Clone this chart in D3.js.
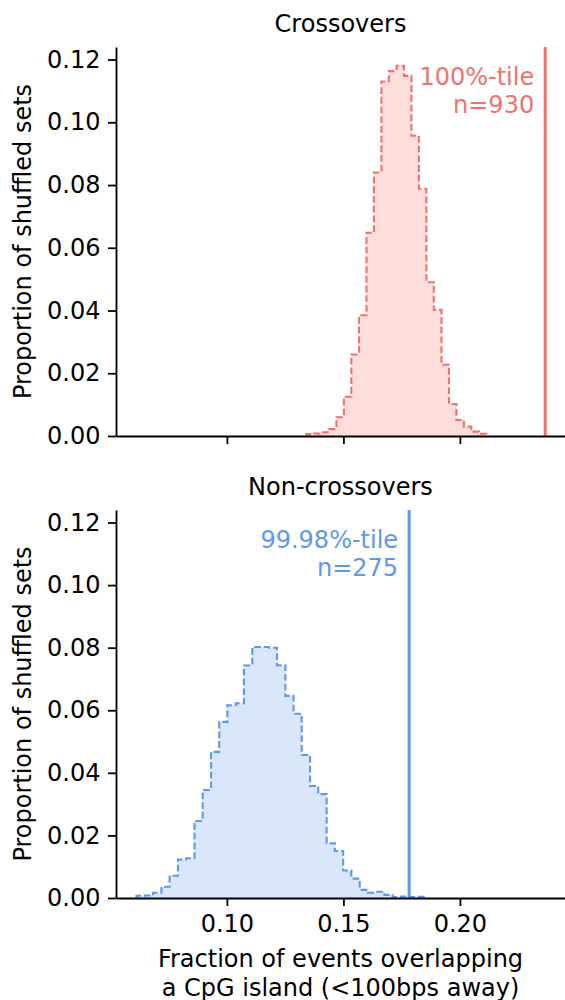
<!DOCTYPE html>
<html lang="en">
<head>
<meta charset="UTF-8">
<title>Shuffled sets overlapping CpG islands</title>
<script src="https://d3js.org/d3.v7.min.js"></script>
<style>
    body { margin: 0; background: #fff; }
    svg text { font-family: "DejaVu Sans", sans-serif; }
</style>
</head>
<body>
<svg width="565" height="1000"></svg>

<script>
    // crossovers: histogram of shuffled sets (bin edges + proportions)
    const coEdges = [0.1341, 0.1373, 0.1406, 0.1438, 0.1470, 0.1502, 0.1534, 0.1567,
        0.1599, 0.1631, 0.1663, 0.1695, 0.1728, 0.1760, 0.1792, 0.1824, 0.1856,
        0.1888, 0.1921, 0.1953, 0.1985, 0.2017, 0.2049, 0.2082, 0.2114];
    const coProps = [0.0006, 0.0008, 0.0012, 0.0022, 0.0060, 0.0125, 0.0260, 0.0385,
        0.0648, 0.0840, 0.1130, 0.1163, 0.1180, 0.1148, 0.0957, 0.0788, 0.0490,
        0.0402, 0.0227, 0.0102, 0.0051, 0.0030, 0.0014, 0.0007];
    const coObserved = 0.2366;
    const coNote = ["100%-tile", "n=930"];

    // non-crossovers
    const ncoEdges = [0.0612, 0.0648, 0.0683, 0.0719, 0.0754, 0.0790, 0.0825, 0.0861,
        0.0896, 0.0932, 0.0967, 0.1002, 0.1038, 0.1073, 0.1109, 0.1144, 0.1180,
        0.1215, 0.1251, 0.1286, 0.1321, 0.1357, 0.1392, 0.1428, 0.1463, 0.1499,
        0.1534, 0.1570, 0.1605, 0.1640, 0.1676, 0.1711, 0.1747, 0.1782, 0.1818, 0.1853];
    const ncoProps = [0.0007, 0.0008, 0.0017, 0.0036, 0.0071, 0.0123, 0.0127, 0.0246,
        0.0345, 0.0467, 0.0563, 0.0616, 0.0622, 0.0743, 0.0802, 0.0802, 0.0800,
        0.0744, 0.0646, 0.0589, 0.0457, 0.0358, 0.0332, 0.0175, 0.0150, 0.0088,
        0.0062, 0.0026, 0.0017, 0.0020, 0.0010, 0.0003, 0.0005, 0.0003, 0.0004];
    const ncoObserved = 0.1782;
    const ncoNote = ["99.98%-tile", "n=275"];

    const yTicks = [0, 0.02, 0.04, 0.06, 0.08, 0.10, 0.12];
    const xTicks = [0.10, 0.15, 0.20];
    const yLabel = "Proportion of shuffled sets";
    const xLabel = ["Fraction of events overlapping", "a CpG island (<100bps away)"];

    const svg = d3.select("svg");
    const fs = 24;

    const x = d3.scaleLinear().domain([0.0524, 0.2451]).range([116, 565]);

    function panel(top, bottom, title, edges, props, observed, note, line, fill, showX)
    {
        const y = d3.scaleLinear().domain([0, 0.124]).range([bottom, top]);
        const g = svg.append("g");

        // step outline points
        let pts = [[edges[0], 0]];
        props.forEach(function (p, i) {
            pts.push([edges[i], p]);
            pts.push([edges[i + 1], p]);
        });
        pts.push([edges[edges.length - 1], 0]);

        const lineGen = d3.line().x(d => x(d[0])).y(d => y(d[1]));

        g.append("path")
            .attr("d", lineGen(pts) + "Z")
            .attr("fill", fill)
            .attr("stroke", "none");

        g.append("path")
            .attr("d", lineGen(pts))
            .attr("fill", "none")
            .attr("stroke", line)
            .attr("stroke-width", 2.1)
            .attr("stroke-dasharray", "6.8,2.9");

        // observed value
        g.append("line")
            .attr("x1", x(observed)).attr("x2", x(observed))
            .attr("y1", y(0.124)).attr("y2", y(0))
            .attr("stroke", line)
            .attr("stroke-width", 3);

        note.forEach(function (t, i) {
            g.append("text")
                .attr("x", x(observed) - 11)
                .attr("y", top + 38 + i * 28.3)
                .attr("text-anchor", "end")
                .attr("fill", line)
                .attr("font-size", fs)
                .text(t);
        });

        // axes
        const ya = g.append("g")
            .attr("transform", "translate(116,0)")
            .call(d3.axisLeft(y).tickValues(yTicks).tickFormat(d3.format(".2f"))
                .tickSize(8).tickSizeOuter(0).tickPadding(7.5));
        const xa = g.append("g")
            .attr("transform", "translate(0," + bottom + ")")
            .call(d3.axisBottom(x).tickValues(xTicks).tickFormat(showX ? d3.format(".2f") : "")
                .tickSize(8).tickSizeOuter(0).tickPadding(9));
        [ya, xa].forEach(function (a) {
            a.selectAll("path, line").attr("stroke", "#000").attr("stroke-width", 1.8);
            a.selectAll("text").attr("font-size", fs).attr("fill", "#000")
                .attr("font-family", '"DejaVu Sans", sans-serif');
        });

        g.append("text")
            .attr("x", (116 + 565) / 2)
            .attr("y", top - 15)
            .attr("text-anchor", "middle")
            .attr("font-size", fs)
            .text(title);

        g.append("text")
            .attr("transform", "translate(31," + (top + bottom) / 2 + ") rotate(-90)")
            .attr("text-anchor", "middle")
            .attr("font-size", fs)
            .text(yLabel);
    }

    panel(47, 436, "Crossovers", coEdges, coProps, coObserved, coNote,
        "#f0736e", "#fddedc", false);
    panel(510, 898, "Non-crossovers", ncoEdges, ncoProps, ncoObserved, ncoNote,
        "#5e97ee", "#dae7fb", true);

    xLabel.forEach(function (t, i) {
        svg.append("text")
            .attr("x", (116 + 565) / 2)
            .attr("y", 967 + i * 28.5)
            .attr("text-anchor", "middle")
            .attr("font-size", fs)
            .text(t);
    });
</script>
</body>
</html>
